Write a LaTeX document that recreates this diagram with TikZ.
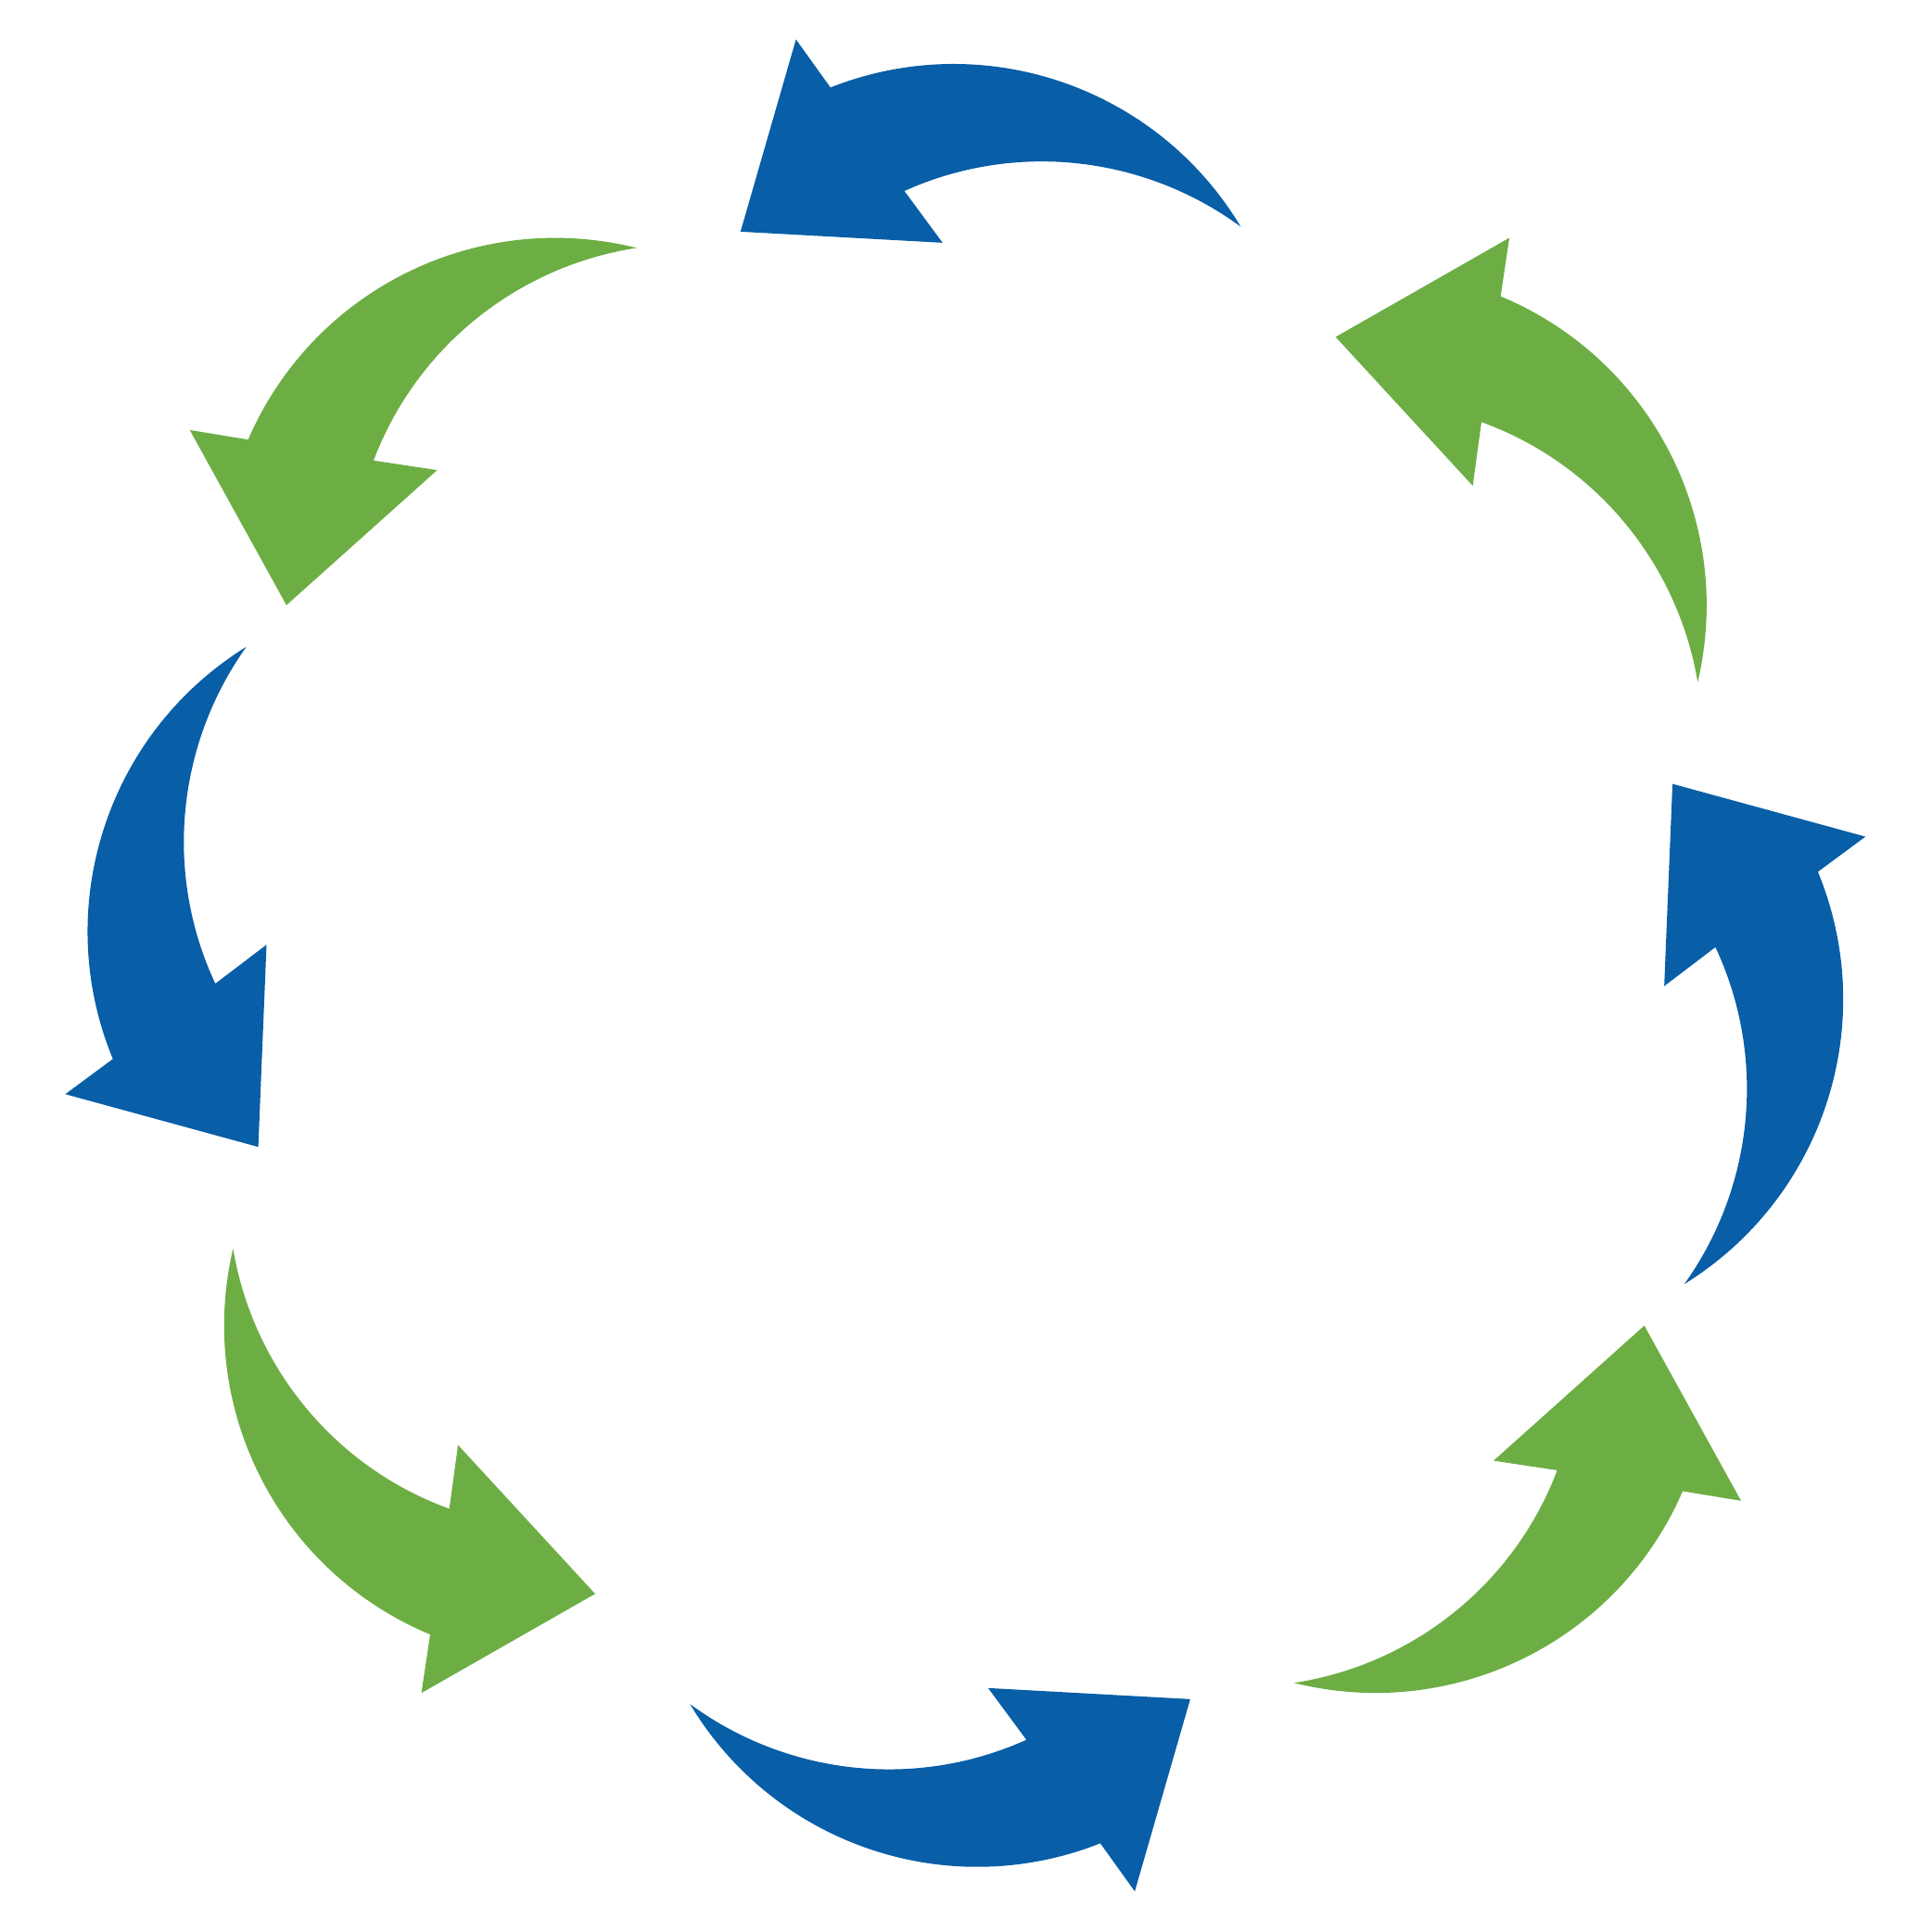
\documentclass[tikz,border=0pt]{standalone}
\definecolor{ablue}{RGB}{8,94,167}
\definecolor{agreen}{RGB}{109,174,68}
\begin{document}
\begin{tikzpicture}[x=0.01cm,y=-0.01cm]
\useasboundingbox (0,0) rectangle (1568,1568);
\foreach \px/\py/\ang/\col in {646/32/0/ablue, 53/888/90.8/ablue, 1514/679/-89.2/ablue, 921/1535/180/ablue,
  154/349/45/agreen, 1225/193/-44.2/agreen, 1413/1218/225/agreen, 342/1374/135.8/agreen}{
  \fill[\col, shift={(\px,\py)}, rotate=\ang]
    (0,0) -- (28,39) .. controls (151.8,-10) and (292.5,37.9) .. (361,152)
    .. controls (281.9,93.9) and (177.5,82.6) .. (88,123) -- (119,165) -- (-45,156) -- cycle;
}
\end{tikzpicture}
\end{document}
